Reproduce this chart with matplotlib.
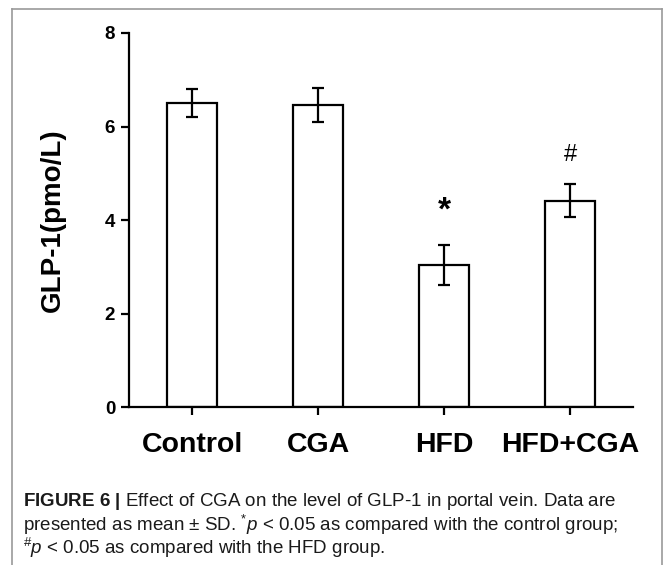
import numpy as np
import matplotlib
matplotlib.use('Agg')
import matplotlib.pyplot as plt
from matplotlib.lines import Line2D

plt.rcParams['font.family'] = 'Liberation Sans'
plt.rcParams['mathtext.fontset'] = 'custom'
plt.rcParams['mathtext.rm'] = 'Liberation Sans'
plt.rcParams['mathtext.it'] = 'Liberation Sans:italic'
plt.rcParams['mathtext.bf'] = 'Liberation Sans:bold'

# data
groups = ['Control', 'CGA', 'HFD', 'HFD+CGA']
means = [6.50, 6.46, 3.04, 4.41]
sds = [0.30, 0.37, 0.42, 0.35]
marks = ['', '', '*', '#']
mark_y = [0, 0, 4.19, 5.39]

fig = plt.figure(figsize=(6.63, 5.65), dpi=100)
ax = fig.add_axes([0.1946, 0.2796, 0.7602, 0.662])

x = np.arange(len(groups))
ax.bar(x, means, width=0.4, color='white', edgecolor='black', linewidth=1.6, zorder=2)
ax.errorbar(x, means, yerr=sds, fmt='none', ecolor='black', elinewidth=1.6,
            capsize=4, capthick=1.6, zorder=3)

for xi, m, my in zip(x, marks, mark_y):
    if m == '*':
        ax.text(xi, my, m, ha='center', va='center', fontsize=24, fontweight='bold')
    elif m == '#':
        ax.text(xi, my, m, ha='center', va='center', fontsize=17)

ax.set_xlim(-0.5, 3.5)
ax.set_ylim(0, 8)
ax.set_yticks([0, 2, 4, 6, 8])
ax.set_xticks(x)
ax.set_xticklabels(groups, fontsize=20.5, fontweight='bold')
for lab in ax.get_yticklabels():
    lab.set_fontsize(13.5)
    lab.set_fontweight('bold')
ax.tick_params(axis='both', width=1.6, length=6, pad=4)
ax.tick_params(axis='x', pad=12)
ax.spines['top'].set_visible(False)
ax.spines['right'].set_visible(False)
ax.spines['left'].set_linewidth(1.6)
ax.spines['bottom'].set_linewidth(1.6)
ax.set_ylabel('GLP-1(pmo/L)', fontsize=20, fontweight='bold', labelpad=28)

# frame around the figure panel
W, H = 663, 565
box = dict(color='#9a9a9a', linewidth=1.2, transform=fig.transFigure)
fig.add_artist(Line2D([12 / W, 662 / W], [1 - 9 / H, 1 - 9 / H], **box))
fig.add_artist(Line2D([12 / W, 12 / W], [0, 1 - 9 / H], **box))
fig.add_artist(Line2D([662 / W, 662 / W], [0, 1 - 9 / H], **box))

# caption
cap = dict(fontsize=13.5, ha='left', va='center', color='#1a1a1a')
fig.text(23 / W, 1 - 502 / H,
         r'$\mathbf{FIGURE\ 6\ |}$ Effect of CGA on the level of GLP-1 in portal vein. Data are', **cap)
fig.text(23 / W, 1 - 525 / H,
         'presented as mean \u00b1 SD. $^{*}$$\\mathit{p}$ < 0.05 as compared with the control group;', **cap)
fig.text(23 / W, 1 - 548 / H,
         r'$^{\#}$$\mathit{p}$ < 0.05 as compared with the HFD group.', **cap)

fig.savefig('out.png', dpi=100)
